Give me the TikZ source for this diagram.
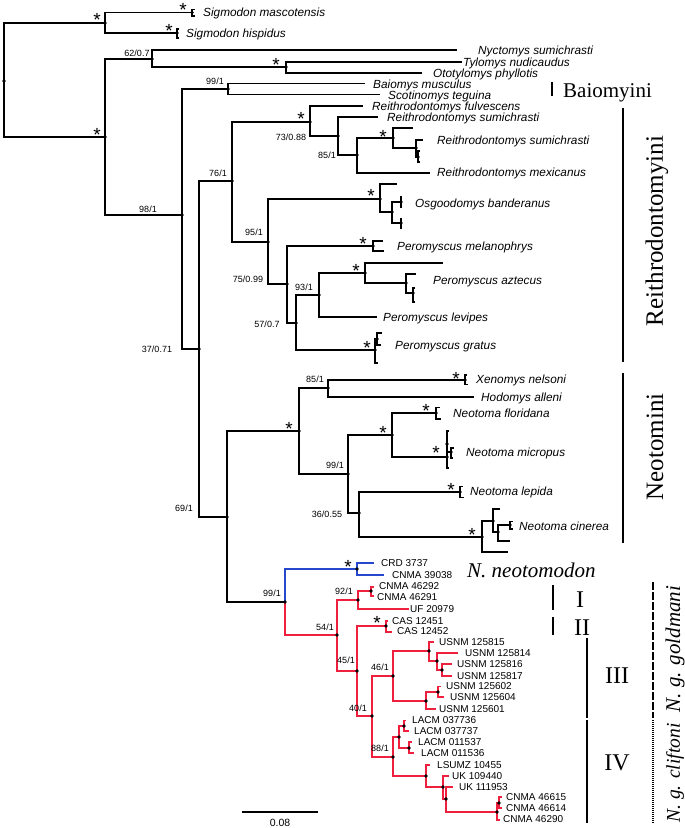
\documentclass[tikz,border=0pt]{standalone}
\usepackage{fontspec}
\setmainfont{Liberation Serif}
\newfontfamily\lsans{Liberation Sans}
\usetikzlibrary{positioning}
\definecolor{nred}{RGB}{238,32,62}
\definecolor{nblue}{RGB}{38,72,204}
\newcommand\tipfont{\lsans\itshape\fontsize{11.8}{12}\selectfont}
\newcommand\vchfont{\lsans\fontsize{10}{11}\selectfont}
\newcommand\bsfont{\lsans\fontsize{9}{10}\selectfont}

\begin{document}
\begin{tikzpicture}[x=1pt, y=-1pt,
    br/.style={line width=1.2pt},
    sp/.style={anchor=base west, yshift=-4.5pt, inner sep=0pt, font=\tipfont},
    vch/.style={anchor=base west, yshift=-3.6pt, inner sep=0pt, font=\vchfont},
    bs/.style={anchor=base, yshift=-3.2pt, inner sep=0pt, font=\bsfont},
    sig/.style={anchor=base, yshift=-11pt, inner sep=0pt, font=\lsans\fontsize{19}{19}\selectfont},
    bar/.style={line width=2pt},
    clade/.style={inner sep=0pt, font=\fontsize{25}{25}\selectfont},
    rom/.style={anchor=base, inner sep=0pt, font=\fontsize{24}{24}\selectfont},
    ssp/.style={rotate=90, inner sep=0pt, font=\itshape\fontsize{21}{21}\selectfont}
]
\fill[white] (0,0) rectangle (685,828);
\useasboundingbox (0,0) rectangle (685,828);

% internal nodes
\coordinate (R) at (4,81);
\coordinate (S) at (105,23);
\coordinate (Mas) at (192,12.5);
\coordinate (His) at (177,33);
\coordinate (A) at (105,137);
\coordinate (N62) at (152,59);
\coordinate (T) at (286,67);
\coordinate (B) at (182,215);
\coordinate (N99b) at (228,89);
\coordinate (N37) at (199,349);
\coordinate (N76) at (232,181);
\coordinate (R73) at (310,122);
\coordinate (N85a) at (338,136);
\coordinate (N85b) at (357,155);
\coordinate (RsC) at (393,138);
\coordinate (Rs2b) at (416,148);
\coordinate (Rs2d) at (418,157);
\coordinate (N95) at (268,242);
\coordinate (Os) at (380,199);
\coordinate (Os2) at (392,212);
\coordinate (Osb) at (401,202);
\coordinate (Osc) at (401,223);
\coordinate (N75) at (287,284);
\coordinate (Pm) at (373,246);
\coordinate (N57) at (296,323);
\coordinate (N93) at (319,295);
\coordinate (Pa) at (365,273);
\coordinate (Pa2) at (406,283);
\coordinate (Pa3) at (413,293);
\coordinate (Pg) at (375,350);
\coordinate (Pg2) at (377,339);
\coordinate (N69) at (227,517);
\coordinate (NeoT) at (299,431);
\coordinate (N85x) at (328,388);
\coordinate (Xen) at (465,380);
\coordinate (N99t) at (348,474);
\coordinate (Nt) at (392,435);
\coordinate (Nfl) at (436,413);
\coordinate (Nmi) at (447,457);
\coordinate (Nm1) at (447,444);
\coordinate (Nm2) at (451,452);
\coordinate (N36) at (359,513);
\coordinate (Nle) at (460,492);
\coordinate (Nci) at (482,537);
\coordinate (Nc1) at (493,521);
\coordinate (Nc2) at (498,532);
\coordinate (Nc3) at (510,525);
\coordinate (N99n) at (285,602);
\coordinate (Crd) at (357,569);
\coordinate (N54) at (337,635);
\coordinate (N92) at (358,600);
\coordinate (C46) at (371,591);
\coordinate (N45) at (357,671);
\coordinate (Cas) at (386,626);
\coordinate (N40) at (372,716);
\coordinate (N46) at (393,676);
\coordinate (U1) at (429,651);
\coordinate (U2) at (437,661);
\coordinate (U3) at (442,670);
\coordinate (U4) at (426,701);
\coordinate (U5) at (438,692);
\coordinate (N88) at (393,757);
\coordinate (L1) at (399,737);
\coordinate (L2) at (404,726);
\coordinate (L3) at (409,748);
\coordinate (L4) at (426,776);
\coordinate (L5) at (443,787);
\coordinate (L6) at (446,799);
\coordinate (Cn) at (497,812);
\coordinate (Cn2) at (499,803);

% tips
\coordinate (tMa1) at (194.5,9.5);  \coordinate (tMa2) at (194.5,16);
\coordinate (tHi1) at (179,29);     \coordinate (tHi2) at (179,38);
\coordinate (tNyc) at (457,50);     \coordinate (tTyl) at (462,62);
\coordinate (tOto) at (422,73);
\coordinate (tBai) at (365,83.5);   \coordinate (tSco) at (380,94.5);
\coordinate (tRfu) at (363,106);    \coordinate (tRs1) at (378,117);
\coordinate (tRme) at (430,173);    \coordinate (tRsa) at (413,128);
\coordinate (tRsc) at (423,140);    \coordinate (tRse) at (420,151);
\coordinate (tRsf) at (420,162);
\coordinate (tOsa) at (397,184);
\coordinate (tOb1) at (401.5,197);  \coordinate (tOb2) at (401.5,207);
\coordinate (tOc1) at (401.5,218.5);\coordinate (tOc2) at (401.5,228);
\coordinate (tPma) at (383,241);    \coordinate (tPmb) at (384,251);
\coordinate (tPle) at (377,317);    \coordinate (tPaa) at (443,263);
\coordinate (tPab) at (416,274);    \coordinate (tPac) at (415,288);
\coordinate (tPad) at (415,302);
\coordinate (tPga) at (382,333);    \coordinate (tPgb) at (381,345);
\coordinate (tPgc) at (378,363);
\coordinate (tXe1) at (466.5,375);  \coordinate (tXe2) at (467.5,384.5);
\coordinate (tHod) at (474,397);
\coordinate (tFl1) at (439.5,407.5);\coordinate (tFl2) at (440.5,419);
\coordinate (tMia) at (449,431);    \coordinate (tMib) at (449,468);
\coordinate (tMic) at (454,448);    \coordinate (tMid) at (453,458);
\coordinate (tLe1) at (462.5,486.5);\coordinate (tLe2) at (463.5,497.5);
\coordinate (tCia) at (500,509);    \coordinate (tCib) at (510,541);
\coordinate (tCic) at (508,552);
\coordinate (tC31) at (512.5,521.5);\coordinate (tC32) at (512.5,529);
\coordinate (tCrd) at (374,563);    \coordinate (tC39) at (384,575);
\coordinate (tC92) at (373.5,587);  \coordinate (tC91) at (373.5,596);
\coordinate (tUF) at (409,609);
\coordinate (tCa1) at (387.5,621);  \coordinate (tCa2) at (392,632);
\coordinate (tU815) at (434,642);   \coordinate (tU814) at (458,653);
\coordinate (tU816) at (452,664);   \coordinate (tU817) at (452,676);
\coordinate (tU602) at (441,686.5); \coordinate (tU604) at (444,697);
\coordinate (tU601) at (436,709);
\coordinate (tL736) at (406,720.5); \coordinate (tL737) at (409,731);
\coordinate (tL537) at (411.5,742); \coordinate (tL536) at (414,753);
\coordinate (tLsu) at (430,765);    \coordinate (tUK44) at (449,776);
\coordinate (tUK95) at (453,787);
\coordinate (tC615) at (501.5,797); \coordinate (tC614) at (501.5,808);
\coordinate (tC290) at (500,820);

% branches
\draw[br] (R) |- (S) (R) |- (A);
\draw[br] (S) |- (Mas) (S) |- (His) (Mas) |- (tMa1) (Mas) |- (tMa2) (His) |- (tHi1) (His) |- (tHi2);
\draw[br] (A) |- (N62) (A) |- (B);
\draw[br] (N62) |- (tNyc) (N62) |- (T) (T) |- (tTyl) (T) |- (tOto);
\draw[br] (B) |- (N99b) (B) |- (N37) (N99b) |- (tBai) (N99b) |- (tSco);
\draw[br] (N37) |- (N76) (N37) |- (N69);
\draw[br] (N76) |- (R73) (N76) |- (N95) (R73) |- (tRfu) (R73) |- (N85a);
\draw[br] (N85a) |- (tRs1) (N85a) |- (N85b) (N85b) |- (RsC) (N85b) |- (tRme);
\draw[br] (RsC) |- (tRsa) (RsC) |- (Rs2b) (Rs2b) |- (tRsc) (Rs2b) |- (Rs2d) (Rs2d) |- (tRse) (Rs2d) |- (tRsf);
\draw[br] (N95) |- (Os) (N95) |- (N75) (Os) |- (tOsa) (Os) |- (Os2) (Os2) |- (Osb) (Os2) |- (Osc);
\draw[br] (Osb) |- (tOb1) (Osb) |- (tOb2) (Osc) |- (tOc1) (Osc) |- (tOc2);
\draw[br] (N75) |- (Pm) (N75) |- (N57) (Pm) |- (tPma) (Pm) |- (tPmb);
\draw[br] (N57) |- (N93) (N57) |- (Pg) (N93) |- (Pa) (N93) |- (tPle);
\draw[br] (Pa) |- (tPaa) (Pa) |- (Pa2) (Pa2) |- (tPab) (Pa2) |- (Pa3) (Pa3) |- (tPac) (Pa3) |- (tPad);
\draw[br] (Pg) |- (Pg2) (Pg) |- (tPgc) (Pg2) |- (tPga) (Pg2) |- (tPgb);
\draw[br] (N69) |- (NeoT) (N69) |- (N99n) (NeoT) |- (N85x) (NeoT) |- (N99t);
\draw[br] (N85x) |- (Xen) (N85x) |- (tHod) (Xen) |- (tXe1) (Xen) |- (tXe2);
\draw[br] (N99t) |- (Nt) (N99t) |- (N36) (Nt) |- (Nfl) (Nt) |- (Nmi) (Nfl) |- (tFl1) (Nfl) |- (tFl2);
\draw[br] (Nmi) |- (Nm1) (Nmi) |- (tMib) (Nm1) |- (tMia) (Nm1) |- (Nm2) (Nm2) |- (tMic) (Nm2) |- (tMid);
\draw[br] (N36) |- (Nle) (N36) |- (Nci) (Nle) |- (tLe1) (Nle) |- (tLe2);
\draw[br] (Nci) |- (Nc1) (Nci) |- (tCic) (Nc1) |- (tCia) (Nc1) |- (Nc2) (Nc2) |- (Nc3) (Nc2) |- (tCib) (Nc3) |- (tC31) (Nc3) |- (tC32);
\draw[br, nblue] (N99n) |- (Crd) (Crd) |- (tCrd) (Crd) |- (tC39);
\draw[br, nred] (N99n) |- (N54) (N54) |- (N92) (N54) |- (N45);
\draw[br, nred] (N92) |- (C46) (N92) |- (tUF) (C46) |- (tC92) (C46) |- (tC91);
\draw[br, nred] (N45) |- (Cas) (N45) |- (N40) (Cas) |- (tCa1) (Cas) |- (tCa2);
\draw[br, nred] (N40) |- (N46) (N40) |- (N88) (N46) |- (U1) (N46) |- (U4);
\draw[br, nred] (U1) |- (tU815) (U1) |- (U2) (U2) |- (tU814) (U2) |- (U3) (U3) |- (tU816) (U3) |- (tU817);
\draw[br, nred] (U4) |- (U5) (U4) |- (tU601) (U5) |- (tU602) (U5) |- (tU604);
\draw[br, nred] (N88) |- (L1) (N88) |- (L4) (L1) |- (L2) (L1) |- (L3);
\draw[br, nred] (L2) |- (tL736) (L2) |- (tL737) (L3) |- (tL537) (L3) |- (tL536);
\draw[br, nred] (L4) |- (tLsu) (L4) |- (L5) (L5) |- (tUK44) (L5) |- (L6) (L6) |- (tUK95) (L6) |- (Cn);
\draw[br, nred] (Cn) |- (Cn2) (Cn) |- (tC290) (Cn2) |- (tC615) (Cn2) |- (tC614);

% node dots
\foreach \n in {R,S,Mas,His,A,N62,T,B,N99b,N37,N76,R73,N85a,N85b,RsC,Rs2b,Rs2d,
    N95,Os,Os2,Osb,Osc,N75,Pm,N57,N93,Pa,Pa2,Pa3,Pg,Pg2,N69,NeoT,N85x,Xen,N99t,
    Nt,Nfl,Nmi,Nm1,Nm2,N36,Nle,Nci,Nc1,Nc2,Nc3,N99n,Crd,N54,N92,C46,N45,Cas,N40,
    N46,U1,U2,U3,U4,U5,N88,L1,L2,L3,L4,L5,L6,Cn,Cn2}
  \fill[black] (\n) circle (1.8pt);

% species
\node[sp] (lMas) at (203,12) {Sigmodon mascotensis};
\node[sp] (lHis) at (186,33) {Sigmodon hispidus};
\node[sp] (lNyc) at (478,50) {Nyctomys sumichrasti};
\node[sp] (lTyl) at (463,62) {Tylomys nudicaudus};
\node[sp] (lOto) at (433,73) {Ototylomys phyllotis};
\node[sp] (lBai) at (373,83.5) {Baiomys musculus};
\node[sp] (lSco) at (388,94.5) {Scotinomys teguina};
\node[sp] (lRfu) at (372,106) {Reithrodontomys fulvescens};
\node[sp] (lRs1) at (387,117) {Reithrodontomys sumichrasti};
\node[sp] (lRs2) at (437,140) {Reithrodontomys sumichrasti};
\node[sp] (lRme) at (437,172) {Reithrodontomys mexicanus};
\node[sp] (lOsg) at (415,203) {Osgoodomys banderanus};
\node[sp] (lPme) at (397,246) {Peromyscus melanophrys};
\node[sp] (lPaz) at (433,280) {Peromyscus aztecus};
\node[sp] (lPle) at (383,317) {Peromyscus levipes};
\node[sp] (lPgr) at (395,345) {Peromyscus gratus};
\node[sp] (lXen) at (476,379) {Xenomys nelsoni};
\node[sp] (lHod) at (481,397) {Hodomys alleni};
\node[sp] (lNfl) at (453,413) {Neotoma floridana};
\node[sp] (lNmi) at (466,452) {Neotoma micropus};
\node[sp] (lNle) at (470,491) {Neotoma lepida};
\node[sp] (lNci) at (519,526) {Neotoma cinerea};

% vouchers
\node[vch] (vCrd) at (381,563) {CRD 3737};
\node[vch] (vC39) at (392,575) {CNMA 39038};
\node[vch] (vC92) at (379,586) {CNMA 46292};
\node[vch] (vC91) at (377,597) {CNMA 46291};
\node[vch] (vUF) at (410,609) {UF 20979};
\node[vch] (vCa1) at (392,621) {CAS 12451};
\node[vch] (vCa2) at (397,631) {CAS 12452};
\node[vch] (vU815) at (439,642) {USNM 125815};
\node[vch] (vU814) at (465,653) {USNM 125814};
\node[vch] (vU816) at (457,664) {USNM 125816};
\node[vch] (vU817) at (457,676) {USNM 125817};
\node[vch] (vU602) at (446,686) {USNM 125602};
\node[vch] (vU604) at (450,697) {USNM 125604};
\node[vch] (vU601) at (439,709) {USNM 125601};
\node[vch] (vL736) at (412,720) {LACM 037736};
\node[vch] (vL737) at (414,731) {LACM 037737};
\node[vch] (vL537) at (418,742) {LACM 011537};
\node[vch] (vL536) at (421,753) {LACM 011536};
\node[vch] (vLsu) at (437,765) {LSUMZ 10455};
\node[vch] (vUK44) at (452,776) {UK 109440};
\node[vch] (vUK95) at (459,787) {UK 111953};
\node[vch] (vC615) at (506,797) {CNMA 46615};
\node[vch] (vC614) at (506,808) {CNMA 46614};
\node[vch] (vC290) at (503,819) {CNMA 46290};

% support values
\node[bs] (b62) at (137,53) {62/0.7};
\node[bs] (b99b) at (215,81) {99/1};
\node[bs] (b98) at (148,209) {98/1};
\node[bs] (b76) at (218,173) {76/1};
\node[bs] (b73) at (291,137) {73/0.88};
\node[bs] (b85a) at (327,155) {85/1};
\node[bs] (b95) at (254,232) {95/1};
\node[bs] (b75) at (248,279) {75/0.99};
\node[bs] (b93) at (304,287) {93/1};
\node[bs] (b57) at (267,324) {57/0.7};
\node[bs] (b37) at (157,349) {37/0.71};
\node[bs] (b85x) at (315,379) {85/1};
\node[bs] (b99t) at (335,465) {99/1};
\node[bs] (b36) at (327,514) {36/0.55};
\node[bs] (b69) at (184,508) {69/1};
\node[bs] (b99n) at (272,593) {99/1};
\node[bs] (b92) at (344,591) {92/1};
\node[bs] (b54) at (325,627) {54/1};
\node[bs] (b45) at (346,660) {45/1};
\node[bs] (b46) at (380,667) {46/1};
\node[bs] (b40) at (358,708) {40/1};
\node[bs] (b88) at (380,748) {88/1};

% asterisks
\node[sig] (sS) at (97,15) {*};
\node[sig] (sMas) at (183,5) {*};
\node[sig] (sHis) at (169,26) {*};
\node[sig] (sA) at (97,130) {*};
\node[sig] (sT) at (276,60) {*};
\node[sig] (sR73) at (301,114) {*};
\node[sig] (sRsC) at (383,132) {*};
\node[sig] (sOs) at (371,191) {*};
\node[sig] (sPm) at (363,239) {*};
\node[sig] (sPa) at (356,266) {*};
\node[sig] (sPg) at (367,343) {*};
\node[sig] (sXen) at (456,374) {*};
\node[sig] (sNeoT) at (289,424) {*};
\node[sig] (sNt) at (383,428) {*};
\node[sig] (sNfl) at (426,406) {*};
\node[sig] (sNmi) at (436,448) {*};
\node[sig] (sNle) at (451,485) {*};
\node[sig] (sNci) at (472,530) {*};
\node[sig] (sCrd) at (348,562) {*};
\node[sig] (sCas) at (377,618) {*};

% clade bars and names
\draw[bar] (552,82) -- (552,96);
\node[anchor=base west, inner sep=0pt, font=\fontsize{21}{21}\selectfont] (cBai) at (563,97) {Baiomyini};
\draw[bar] (623,108) -- (623,362);
\node[clade, rotate=90] (cRei) at (657,231) {Reithrodontomyini};
\draw[bar] (623,373) -- (623,543);
\node[clade, rotate=90] (cNeo) at (655,447) {Neotomini};
\node[anchor=base west, inner sep=0pt, font=\itshape\fontsize{21}{21}\selectfont] (cNtm) at (467,577) {N. neotomodon};
\draw[bar] (553,585) -- (553,610);
\node[rom] (cI) at (580,607) {I};
\draw[bar] (553,617) -- (553,635);
\node[rom] (cII) at (582,635) {II};
\draw[line width=1.6pt] (587,638) -- (587,718);
\node[rom] (cIII) at (617,683) {III};
\draw[line width=1.6pt] (587,720) -- (587,823);
\node[rom] (cIV) at (617,770) {IV};
\draw[line width=1.6pt, dash pattern=on 8pt off 2pt] (653,582) -- (653,718);
\node[ssp] (cGol) at (675,649) {N. g. goldmani};
\draw[line width=1.6pt, dash pattern=on 1pt off 1pt] (653,720) -- (653,823);
\node[ssp, font=\itshape\fontsize{19.5}{20}\selectfont] (cCli) at (675,773) {N. g. cliftoni};

% scale bar
\coordinate (sbL) at (242,812);
\coordinate (sbR) at (318,812);
\draw[line width=1.2pt] (sbL) -- (sbR);
\node[inner sep=0pt, font=\lsans\fontsize{10.5}{11}\selectfont] (sbT) at (280,823) {0.08};
\end{tikzpicture}
\end{document}
